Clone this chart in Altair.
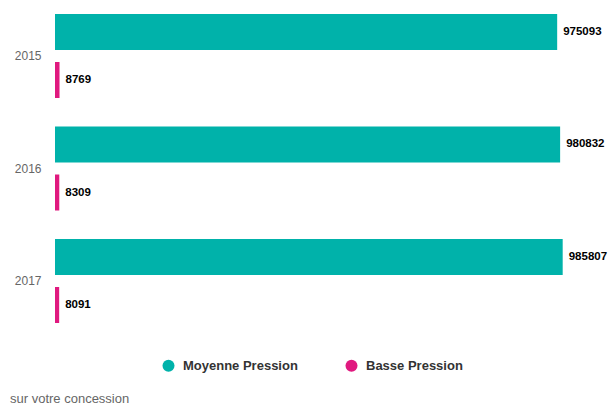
import altair as alt
import pandas as pd

years = ["2015", "2016", "2017"]
series = ["Moyenne Pression", "Basse Pression"]
moyenne = [975093, 980832, 985807]
basse = [8769, 8309, 8091]
colors = ["#00B2AA", "#E0197F"]

rows = []
for i, y in enumerate(years):
    rows.append({"annee": y, "serie": series[0], "valeur": moyenne[i]})
    rows.append({"annee": y, "serie": series[1], "valeur": basse[i]})
df = pd.DataFrame(rows)

y_enc = alt.Y("annee:N", title=None, sort=years,
              scale=alt.Scale(paddingInner=0.2533, paddingOuter=0.0533),
              axis=alt.Axis(ticks=False, domain=False, labelPadding=14,
                            labelFontSize=12, labelColor="#666666",
                            labelFont="Liberation Sans"))
yoff = alt.YOffset("serie:N", sort=series,
                   scale=alt.Scale(paddingInner=0.25, paddingOuter=0))
x_enc = alt.X("valeur:Q", title=None,
              scale=alt.Scale(domain=[0, 1000000], nice=False),
              axis=None)

bars = alt.Chart(df).mark_bar().encode(
    x=x_enc, y=y_enc, yOffset=yoff,
    color=alt.Color("serie:N", sort=series,
                    scale=alt.Scale(domain=series, range=colors),
                    legend=alt.Legend(title=None, orient="none", direction="horizontal",
                                      legendX=107, legendY=351,
                                      symbolType="circle", symbolSize=144,
                                      symbolStrokeWidth=0, symbolOpacity=1,
                                      labelOffset=8,
                                      labelFontSize=13, labelFontWeight="bold",
                                      labelColor="#333333", labelFont="Liberation Sans",
                                      columnPadding=47)),
)

labels = alt.Chart(df).mark_text(align="left", baseline="middle", dx=6,
                                 fontSize=11.5, fontWeight="bold", color="#000000",
                                 font="Liberation Sans").encode(
    x=x_enc, y=y_enc, yOffset=yoff, text=alt.Text("valeur:Q", format="d"),
)

chart = (bars + labels).properties(
    width=515, height=321,
    autosize=alt.AutoSizeParams(type="none"),
    padding={"left": 47, "top": 0, "right": 38, "bottom": 78},
    title=alt.TitleParams("sur votre concession", orient="bottom", anchor="start",
                          frame="group", fontSize=13, fontWeight="normal",
                          color="#666666", font="Liberation Sans", offset=20, dx=-45),
).configure_view(stroke=None)

chart.save("out.html", embed_options={"renderer": "svg", "actions": False})
